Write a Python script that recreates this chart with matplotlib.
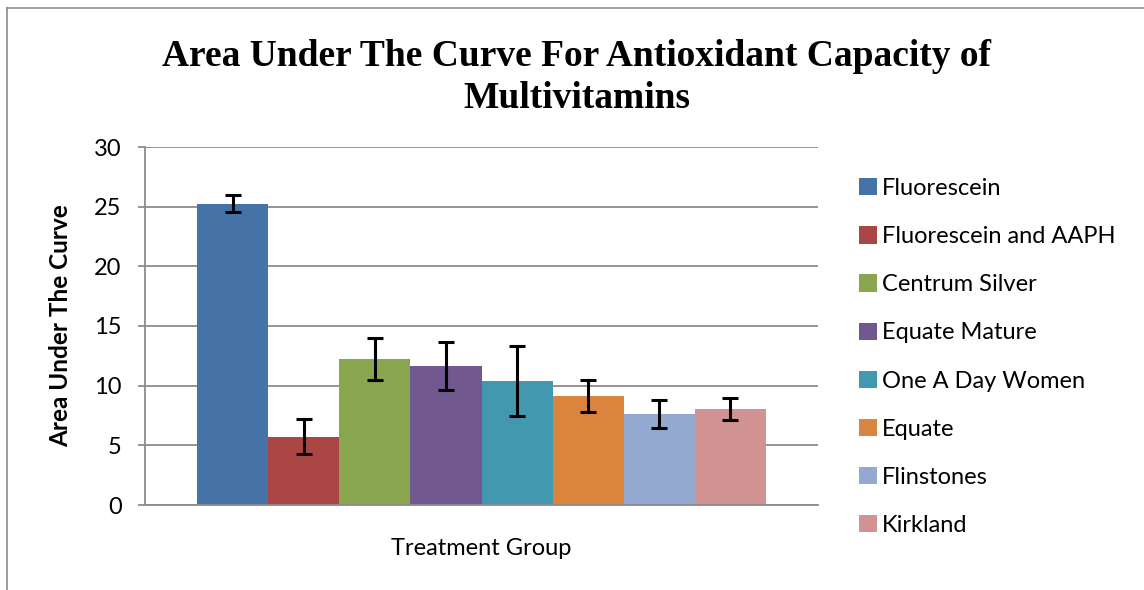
import matplotlib
matplotlib.use("Agg")
import matplotlib.pyplot as plt
from matplotlib.patches import Patch
from matplotlib.lines import Line2D

categories = ["Fluorescein", "Fluorescein and AAPH", "Centrum Silver", "Equate Mature",
              "One A Day Women", "Equate", "Flinstones", "Kirkland"]
values = [25.25, 5.73, 12.24, 11.65, 10.40, 9.14, 7.63, 8.05]
errors = [0.72, 1.45, 1.73, 2.04, 2.96, 1.33, 1.20, 0.92]
colors = ["#4572A7", "#AA4643", "#89A54E", "#71588F", "#4198AF", "#DB843D", "#93A9CF", "#D19392"]
yticks = [0, 5, 10, 15, 20, 25, 30]

W, H = 1144, 590
fig = plt.figure(figsize=(W / 100, H / 100), dpi=100)
ax = fig.add_axes([145 / W, 1 - 505 / H, (818 - 145) / W, (505 - 147) / H])

sans = "Lato"
n = len(values)
bw = 569 / 673 / n
for i, (v, e, c, lab) in enumerate(zip(values, errors, colors, categories)):
    x = (i - (n - 1) / 2) * bw
    ax.bar(x, v, width=bw, color=c, label=lab, zorder=2)
    ax.errorbar(x, v, yerr=e, fmt="none", ecolor="black", elinewidth=2.2,
                capsize=6, capthick=2.2, zorder=3)

ax.set_xlim(-0.5, 0.5)
ax.set_ylim(0, 30)
ax.set_yticks(yticks)
ax.set_yticklabels([str(t) for t in yticks], fontfamily=sans, fontsize=17)
ax.set_xticks([])
ax.yaxis.grid(True, color="#8c8c8c", linewidth=1.3, zorder=0)
ax.set_axisbelow(True)
for s in ["top", "right"]:
    ax.spines[s].set_visible(False)
for s in ["left", "bottom"]:
    ax.spines[s].set_color("#8c8c8c")
    ax.spines[s].set_linewidth(1.3)
ax.tick_params(axis="y", length=5, color="#8c8c8c", width=1.3, pad=11.8)

ax.set_ylabel("Area Under The Curve", fontfamily=sans, fontweight="bold", fontsize=17.5, labelpad=15.5)
ax.set_xlabel("Treatment Group", fontfamily=sans, fontsize=17, labelpad=24)

fig.text(577 / W, 1 - 66 / H, "Area Under The Curve For Antioxidant Capacity of",
         ha="center", va="baseline", fontfamily="Liberation Serif", fontweight="bold", fontsize=27)
fig.text(577 / W, 1 - 108 / H, "Multivitamins",
         ha="center", va="baseline", fontfamily="Liberation Serif", fontweight="bold", fontsize=27)

handles = [Patch(facecolor=c) for c in colors]
leg = fig.legend(handles, categories, loc="upper left", bbox_to_anchor=(850 / W, 1 - 168.5 / H),
                 frameon=False, prop={"family": sans, "size": 17}, handlelength=0.75,
                 handleheight=0.75, handletextpad=0.2, labelspacing=1.15, borderaxespad=0)

fig.add_artist(Line2D([7 / W, 7 / W], [0, 1 - 8 / H], transform=fig.transFigure, color="#8c8c8c", lw=1.2))
fig.add_artist(Line2D([7 / W, 1], [1 - 8 / H, 1 - 8 / H], transform=fig.transFigure, color="#8c8c8c", lw=1.2))

fig.savefig("out.png", dpi=100)
